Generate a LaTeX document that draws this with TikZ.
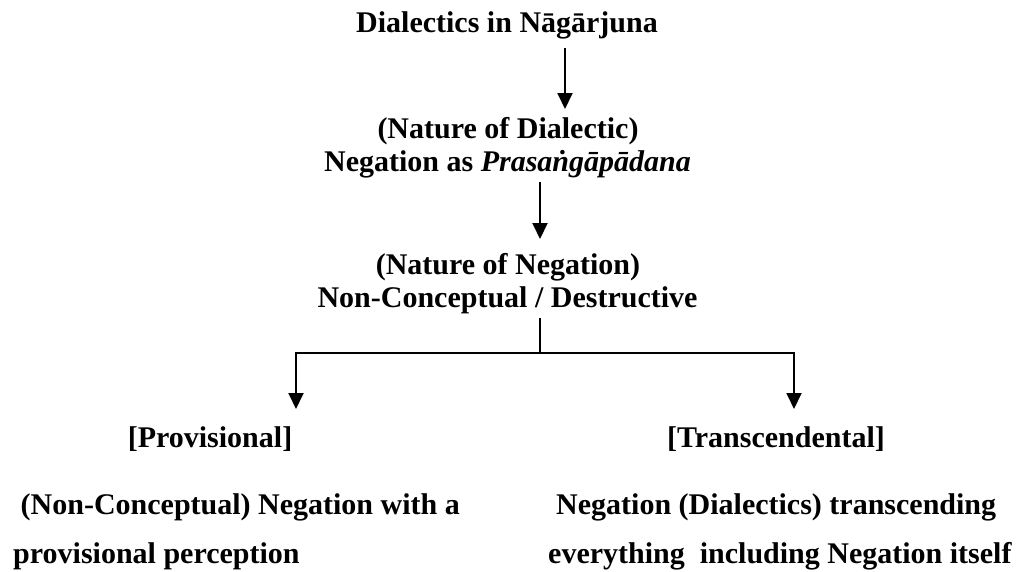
\documentclass[tikz,border=0pt]{standalone}
\usepackage{fontspec}
\setmainfont{Liberation Serif}
\usetikzlibrary{arrows.meta}
\tikzset{
  lbl/.style={anchor=base, inner sep=0pt, font=\fontsize{30}{33}\selectfont\bfseries},
  lblw/.style={anchor=base west, inner sep=0pt, font=\fontsize{30}{33}\selectfont\bfseries},
  conn/.style={line width=1.9pt},
  arr/.style={line width=1.9pt, -{Triangle[length=16pt,width=15pt]}}
}
\begin{document}
\begin{tikzpicture}[x=1pt,y=-1pt]
\useasboundingbox (0,0) rectangle (1020,571);
\node[lbl] (title) at (507,32) {Dialectics in Nāgārjuna};
\node[lbl] (natdia) at (508,138) {(Nature of Dialectic)};
\node[lbl] (negpra) at (507.5,171) {Negation as \textit{Prasaṅgāpādana}};
\node[lbl] (natneg) at (508,274) {(Nature of Negation)};
\node[lbl] (noncon) at (507.5,307) {Non-Conceptual / Destructive};
\node[lbl] (prov) at (210,447) {[Provisional]};
\node[lbl] (trans) at (776,447) {[Transcendental]};
\node[lblw] (l1) at (13,514) {\ (Non-Conceptual) Negation with a};
\node[lblw] (l2) at (13,563) {provisional perception};
\node[lblw] (r1) at (556,514) {Negation (Dialectics) transcending};
\node[lblw] (r2) at (548,563) {everything\ \ including Negation itself};
% connectors
\coordinate (a1s) at (565,48);
\coordinate (a1e) at (565,109);
\coordinate (a2s) at (540,182);
\coordinate (a2e) at (540,239);
\coordinate (vs) at (540,318);
\coordinate (hj) at (540,353);
\coordinate (hl) at (296,353);
\coordinate (hr) at (794,353);
\coordinate (tl) at (296,409);
\coordinate (tr) at (794,409);
\draw[arr] (a1s) -- (a1e);
\draw[arr] (a2s) -- (a2e);
\draw[conn] (vs) -- (hj);
\draw[arr] (hj) -- (hl) -- (tl);
\draw[arr] (hj) -- (hr) -- (tr);
\end{tikzpicture}
\end{document}
